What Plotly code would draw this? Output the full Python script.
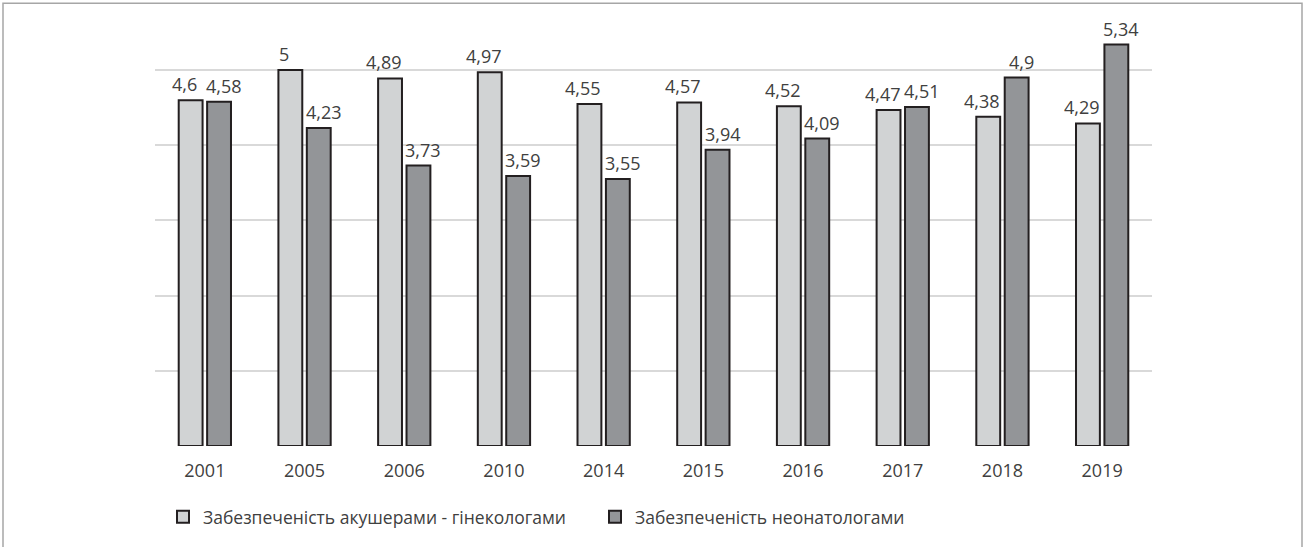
import plotly.graph_objects as go

# Chart data
years = ["2001", "2005", "2006", "2010", "2014", "2015", "2016", "2017", "2018", "2019"]
obgyn = [4.6, 5.0, 4.89, 4.97, 4.55, 4.57, 4.52, 4.47, 4.38, 4.29]
neonat = [4.58, 4.23, 3.73, 3.59, 3.55, 3.94, 4.09, 4.51, 4.9, 5.34]
series_names = ["Забезпеченість акушерами - гінекологами", "Забезпеченість неонатологами"]

W, H = 1304, 547
ML, MR, MT, MB = 155, 152, 25, 94
FONT = "Open Sans"
TXT = "#404040"
BARGAP, GROUPGAP = 0.43, 0.16


def fmt(v):
    return f"{v:g}".replace(".", ",")


pw, ph = W - ML - MR, H - MT - MB
cat_px = pw / len(years)
slot_px = cat_px * (1 - BARGAP) / 2

fig = go.Figure()
annotations = []
# (values, fill, horizontal offset of the bar centre, label nudge away from the neighbour)
series = [(series_names[0], obgyn, "#d1d3d4", -slot_px / 2, -6),
          (series_names[1], neonat, "#939598", slot_px / 2, 5)]
for name, vals, color, off, nudge in series:
    fig.add_trace(go.Bar(
        x=years, y=vals, name=name,
        marker=dict(color=color, line=dict(color="#231f20", width=2)),
        cliponaxis=False,
    ))
    for i, v in enumerate(vals):
        annotations.append(dict(
            x=i, y=v, xref="x", yref="y", text=fmt(v), showarrow=False,
            xanchor="center", yanchor="bottom", xshift=off + nudge, yshift=2,
            font=dict(family=FONT, size=18, color=TXT),
        ))


# outer frame of the chart area (pixel coordinates converted to paper units)
def px_x(p):
    return (p - ML) / pw


def px_y(p):
    return (H - MB - p) / ph


fig.add_shape(type="rect", xref="paper", yref="paper",
              x0=px_x(3), x1=px_x(1302), y0=px_y(560), y1=px_y(3),
              line=dict(color="#a6a6a6", width=1.5), fillcolor="rgba(0,0,0,0)",
              layer="below")

fig.update_layout(
    width=W, height=H,
    margin=dict(l=ML, r=MR, t=MT, b=MB, pad=0),
    paper_bgcolor="white", plot_bgcolor="white",
    barmode="group", bargap=BARGAP, bargroupgap=GROUPGAP,
    font=dict(family=FONT, size=18, color=TXT),
    annotations=annotations,
    showlegend=True,
    legend=dict(orientation="h", x=px_x(163), xanchor="left", y=px_y(525), yanchor="middle",
                font=dict(family=FONT, size=17.5, color=TXT), traceorder="normal",
                itemwidth=30, entrywidth=387),
    xaxis=dict(type="category", categoryorder="array", categoryarray=years,
               range=[-0.5, len(years) - 0.5], autorange=False,
               showgrid=False, showline=False, zeroline=False, ticks="",
               tickfont=dict(family=FONT, size=18, color=TXT), ticklabelstandoff=12),
    yaxis=dict(range=[0, 5.6], tickvals=[0, 1, 2, 3, 4, 5], showticklabels=False,
               showgrid=True, gridcolor="#d9d9d9", gridwidth=1.5,
               zeroline=False, showline=False),
)

fig.write_html("out.html")
